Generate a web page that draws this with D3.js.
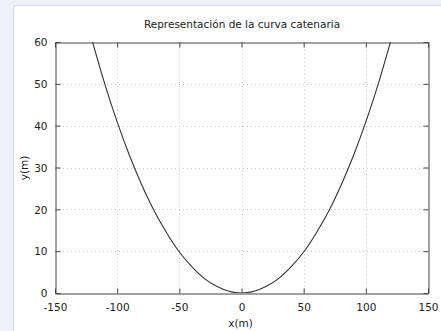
<!DOCTYPE html>
<html>
<head>
<meta charset="utf-8">
<script src="https://cdn.jsdelivr.net/npm/d3@7/dist/d3.min.js"></script>
<style>
  html, body { margin: 0; padding: 0; background: #f0f0fb; }
  svg { display: block; }
  text { font-family: "DejaVu Sans", sans-serif; fill: #222; }
</style>
</head>
<body>
<svg id="chart" width="441" height="331"></svg>
<script>
// Horizontal positions along the cable (m)
const xs = [-120, -110, -100, -90, -80, -70, -60, -50, -40, -30, -20, -10, 0,
            10, 20, 30, 40, 50, 60, 70, 80, 90, 100, 110, 120];
// Height of the cable above its lowest point (m)
const ys = [60.2, 50.0, 40.9, 32.8, 25.7, 19.5, 14.3, 9.8, 6.3, 3.5, 1.6, 0.4, 0,
            0.4, 1.6, 3.5, 6.3, 9.8, 14.3, 19.5, 25.7, 32.8, 40.9, 50.0, 60.2];
const xTicks = [-150, -100, -50, 0, 50, 100, 150];
const yTicks = [0, 10, 20, 30, 40, 50, 60];
const title = "Representación de la curva catenaria";
const xLabel = "x(m)";
const yLabel = "y(m)";

const svg = d3.select("#chart");

// white figure panel
svg.append("rect")
  .attr("x", 13.5).attr("y", 5.5)
  .attr("width", 440).attr("height", 340)
  .attr("fill", "#fff").attr("stroke", "#dcdce4");

const L = 55, R = 428, T = 42, B = 293;
const x = d3.scaleLinear().domain([-150, 150]).range([L, R]);
const y = d3.scaleLinear().domain([0, 60]).range([B, T]);

// dotted grid
const grid = svg.append("g").attr("stroke", "#c8c8c8").attr("stroke-dasharray", "1,3").attr("stroke-width", 1);
xTicks.slice(1, -1).forEach(v => grid.append("line")
  .attr("x1", Math.round(x(v)) + 0.5).attr("x2", Math.round(x(v)) + 0.5)
  .attr("y1", T).attr("y2", B));
yTicks.slice(1, -1).forEach(v => grid.append("line")
  .attr("x1", L).attr("x2", R)
  .attr("y1", Math.round(y(v)) + 0.5).attr("y2", Math.round(y(v)) + 0.5));

// curve
svg.append("defs").append("clipPath").attr("id", "plotclip")
  .append("rect").attr("x", L).attr("y", T).attr("width", R - L).attr("height", B - T);
const pts = xs.map((v, i) => [v, ys[i]]);
svg.append("path")
  .datum(pts)
  .attr("clip-path", "url(#plotclip)")
  .attr("fill", "none").attr("stroke", "#333").attr("stroke-width", 1.1)
  .attr("d", d3.line().x(d => x(d[0])).y(d => y(d[1])).curve(d3.curveNatural));

// axes with inward ticks on all four sides
const tk = 5;
const fmt = d => String(d);
const axB = svg.append("g").attr("transform", `translate(0,${B + 0.5})`)
  .call(d3.axisBottom(x).tickValues(xTicks).tickSize(-tk).tickFormat(fmt).tickSizeOuter(0));
const axT = svg.append("g").attr("transform", `translate(0,${T + 0.5})`)
  .call(d3.axisTop(x).tickValues(xTicks).tickSize(-tk).tickFormat("").tickSizeOuter(0));
const axL = svg.append("g").attr("transform", `translate(${L + 0.5},0)`)
  .call(d3.axisLeft(y).tickValues(yTicks).tickSize(-tk).tickFormat(fmt).tickSizeOuter(0));
const axR = svg.append("g").attr("transform", `translate(${R + 0.5},0)`)
  .call(d3.axisRight(y).tickValues(yTicks).tickSize(-tk).tickFormat("").tickSizeOuter(0));
[axB, axT, axL, axR].forEach(g => {
  g.selectAll(".domain").attr("stroke", "#444");
  g.selectAll(".tick line").attr("stroke", "#444");
  g.selectAll("text").attr("font-size", 10.5).attr("fill", "#222")
    .attr("font-family", "DejaVu Sans, sans-serif");
});
axB.selectAll("text").attr("y", 13.5).attr("dy", "0.35em");
axL.selectAll("text").attr("x", -8).attr("dy", "0.35em");

svg.append("text").attr("x", 242).attr("y", 28).attr("text-anchor", "middle")
  .attr("font-size", 10.5).text(title);
svg.append("text").attr("x", 240.5).attr("y", 327).attr("text-anchor", "middle")
  .attr("font-size", 10.5).text(xLabel);
svg.append("text").attr("transform", "translate(28,168) rotate(-90)")
  .attr("text-anchor", "middle").attr("font-size", 10.5).text(yLabel);
</script>
</body>
</html>
